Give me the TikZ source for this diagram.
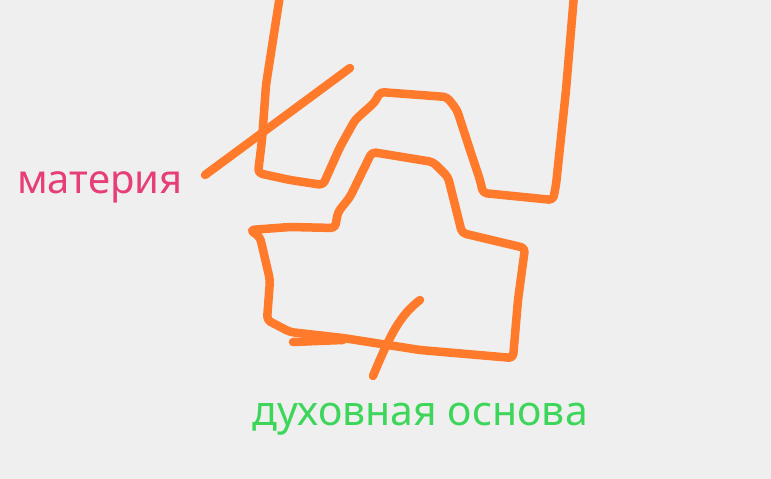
\documentclass[tikz,border=0pt]{standalone}
\usepackage{fontspec}
\setmainfont{Noto Sans}
\usetikzlibrary{positioning}
\definecolor{paper}{HTML}{EFEFEF}
\definecolor{marker}{HTML}{FF7A2B}
\definecolor{matpink}{HTML}{E63F78}
\definecolor{basegreen}{HTML}{3ED65A}

\begin{document}
\begin{tikzpicture}[
  x=1pt, y=-1pt,
  stroke/.style={draw=marker, line width=8.5pt, line cap=round, line join=round, rounded corners=4pt},
  word/.style={font=\fontsize{40}{44}\selectfont, inner sep=0pt, anchor=base west}
]
\useasboundingbox (0,0) rectangle (771,479);
\fill[paper] (0,0) rectangle (771,479);

% upper shape
\draw[stroke] (280,-5) -- (266,85) -- (262,140) -- (258,173) -- (290,180)
  -- (323,185) -- (340,147) -- (355,120) -- (375,102) -- (380,92)
  -- (447,97) -- (457,110) -- (470,150) -- (480,180) -- (483,193)
  -- (553,200) -- (556,185) -- (566,90) -- (574,-5);

% lower shape
\draw[stroke] (250,230) -- (260,237) -- (270,280) -- (267,320) -- (290,332)
  -- (343,338) -- (420,350) -- (513,358) -- (518,300) -- (525,248)
  -- (462,233) -- (448,177) -- (433,162) -- (372,152) -- (350,197)
  -- (338,212) -- (335,228) -- (290,227) -- cycle;
\draw[stroke] (293,342) -- (343,340);

% labels
\node[word, text=matpink] (mat) at (17,193) {материя};
\node[word, text=basegreen, font=\fontsize{41}{45}\selectfont] (base) at (252,425) {духовная основа};

\coordinate (matend) at (350,68);
\coordinate (baseend) at (420,300);
\draw[stroke] (205,175) -- (matend);
\draw[stroke] (373,376) .. controls (390,335) and (400,315) .. (baseend);
\end{tikzpicture}
\end{document}
